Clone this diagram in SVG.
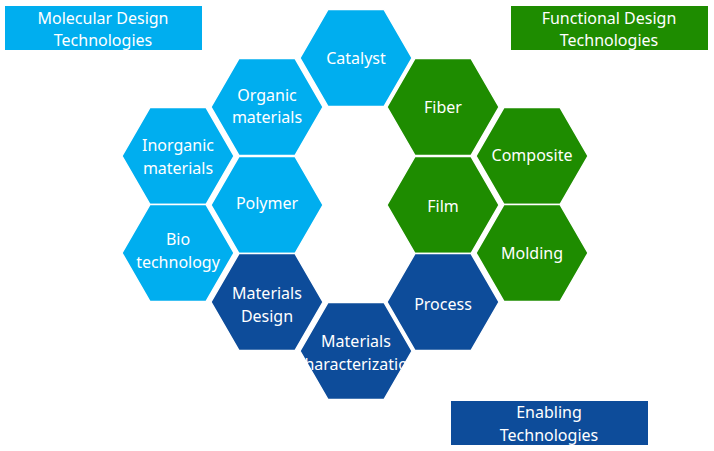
<svg xmlns="http://www.w3.org/2000/svg" width="714" height="451" viewBox="0 0 714 451">
<style>
text{font-family:"Noto Sans","Open Sans",sans-serif;font-size:16px;fill:#fff;text-anchor:middle}
.lb{fill:#00AEEF}.gr{fill:#1E8C00}.db{fill:#0D4C9A}
.h{stroke:#fff;stroke-width:1.5}
</style>
<defs><polygon id="hx" points="-56,0 -28,-48.5 28,-48.5 56,0 28,48.5 -28,48.5"/></defs>
<rect width="714" height="451" fill="#fff"/>
<g id="legend-molecular"><rect x="5" y="6" width="197" height="44" class="lb"/><text x="103" y="24">Molecular Design</text><text x="103" y="46">Technologies</text></g>
<g id="legend-functional"><rect x="511" y="6" width="197" height="44" class="gr"/><text x="609" y="24">Functional Design</text><text x="609" y="46">Technologies</text></g>
<g id="legend-enabling"><rect x="451" y="401" width="197" height="44" class="db"/><text x="549" y="418">Enabling</text><text x="549" y="441">Technologies</text></g>
<g id="catalyst"><use href="#hx" x="356" y="58" class="lb h"/><text x="356" y="64">Catalyst</text></g>
<g id="organic"><use href="#hx" x="267" y="107" class="lb h"/><text x="267" y="101">Organic</text><text x="267" y="123">materials</text></g>
<g id="inorganic"><use href="#hx" x="178" y="156" class="lb h"/><text x="178" y="151">Inorganic</text><text x="178" y="174">materials</text></g>
<g id="polymer"><use href="#hx" x="267" y="205" class="lb h"/><text x="267" y="209">Polymer</text></g>
<g id="bio"><use href="#hx" x="178" y="253" class="lb h"/><text x="178" y="245">Bio</text><text x="178" y="268">technology</text></g>
<g id="fiber"><use href="#hx" x="443" y="107" class="gr h"/><text x="443" y="113">Fiber</text></g>
<g id="composite"><use href="#hx" x="532" y="156" class="gr h"/><text x="532" y="161">Composite</text></g>
<g id="film"><use href="#hx" x="443" y="205" class="gr h"/><text x="443" y="212">Film</text></g>
<g id="molding"><use href="#hx" x="532" y="253" class="gr h"/><text x="532" y="259">Molding</text></g>
<g id="materials-design"><use href="#hx" x="267" y="302" class="db h"/><text x="267" y="299">Materials</text><text x="267" y="322">Design</text></g>
<g id="process"><use href="#hx" x="443" y="302" class="db h"/><text x="443" y="310">Process</text></g>
<g id="characterization"><use href="#hx" x="356" y="351" class="db h"/><text x="356" y="347">Materials</text><text x="356" y="370">Characterization</text></g>
<g id="connectors"/>
</svg>
